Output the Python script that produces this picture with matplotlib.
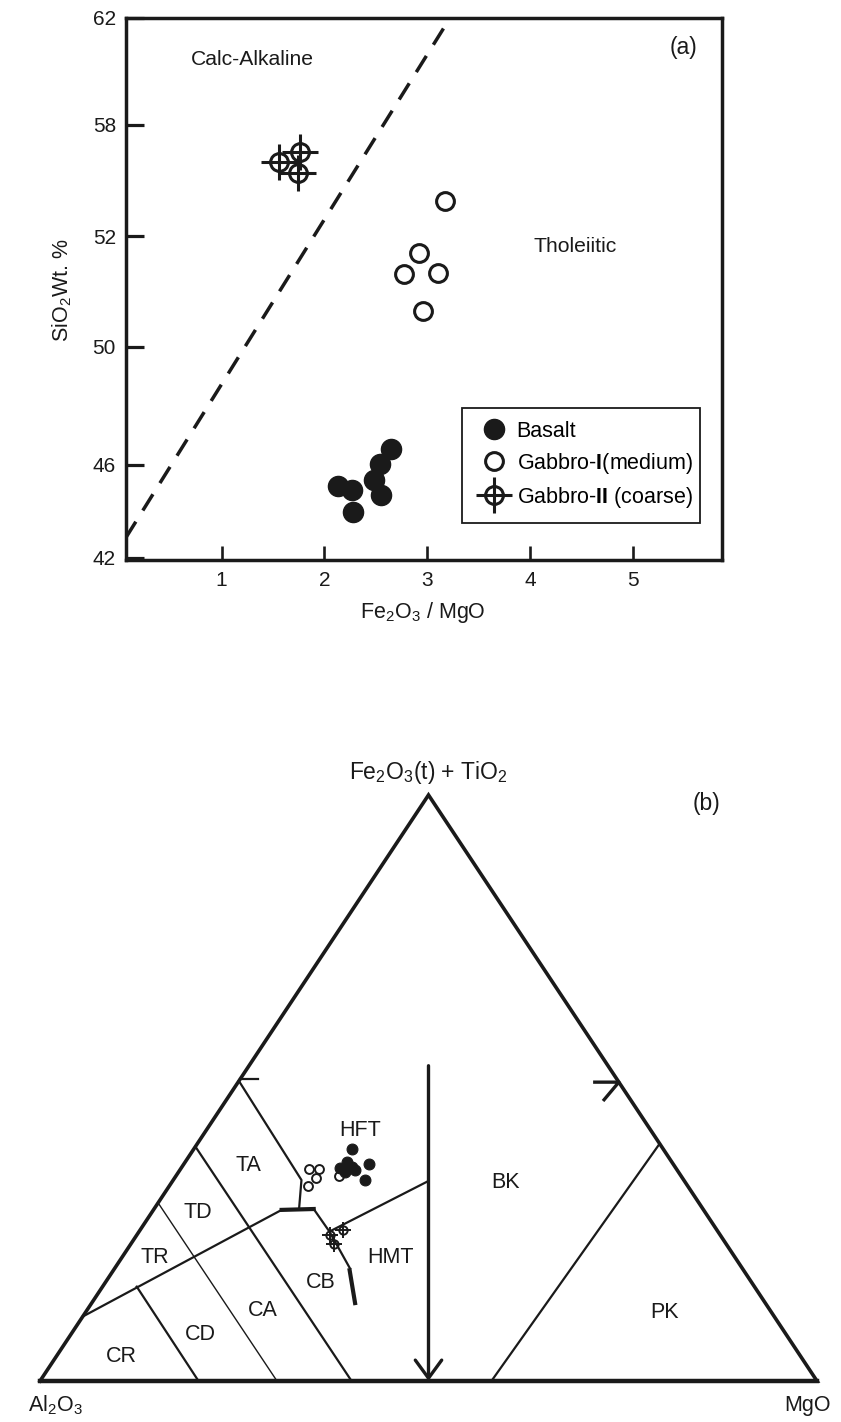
import matplotlib
matplotlib.use('Agg')
import matplotlib.pyplot as plt
from matplotlib.legend_handler import HandlerTuple

plt.rcParams['font.family'] = ['Liberation Sans', 'DejaVu Sans']
plt.rcParams['mathtext.fontset'] = 'custom'
plt.rcParams['mathtext.rm'] = 'Liberation Sans'
plt.rcParams['mathtext.bf'] = 'Liberation Sans:bold'
plt.rcParams['mathtext.it'] = 'Liberation Sans:italic'

# ---------------- (a) data ----------------
basalt_ratio = [2.65, 2.54, 2.48, 2.55, 2.13, 2.27, 2.28]
basalt_sio2 = [46.07, 45.53, 44.95, 44.37, 44.73, 44.55, 43.75]
g1_ratio = [3.17, 2.92, 2.77, 3.11, 2.96]
g1_sio2 = [55.25, 53.30, 52.54, 52.58, 51.17]
g2_ratio = [1.56, 1.76, 1.74]
g2_sio2 = [56.66, 57.05, 56.28]
divider_ratio = [0.066, 3.224]
divider_sio2 = [42.8, 62.0]
xtick_pos = [1, 2, 3, 4, 5]
xtick_labels = ['1', '2', '3', '4', '5']
ytick_pos = [42.07, 45.5, 49.85, 53.93, 58.06, 62.0]
ytick_labels = ['42', '46', '50', '52', '58', '62']

# ---------------- (b) data: Al2O3, Fe2O3(t)+TiO2, MgO (%) ----------------
basalt_al = [40.1, 41.8, 43.2, 41.6, 41.4, 42.9, 39.1, 41.0]
basalt_fe = [39.6, 37.4, 36.3, 36.6, 36.0, 35.6, 37.0, 34.3]
basalt_mg = [20.3, 20.8, 20.5, 21.9, 22.6, 21.5, 23.9, 24.7]
g1_al = [47.3, 46.0, 47.2, 48.9, 44.1]
g1_fe = [36.1, 36.1, 34.6, 33.2, 34.9]
g1_mg = [16.6, 17.9, 18.2, 17.9, 21.0]
g2_al = [50.2, 48.2, 50.5]
g2_fe = [24.9, 25.7, 23.4]
g2_mg = [24.9, 26.1, 26.1]

# field boundaries (Al, Fe, Mg) and line widths
boundaries = [
    ([(89.0, 11.0, 0.0), (54.3, 29.2, 16.5)], 1.6),            # TR/CR upper
    ([(54.3, 29.2, 16.5), (50.1, 29.35, 20.55)], 3.0),          # thick step
    ([(50.1, 29.35, 20.55), (50.0, 25.5, 24.5), (50.5, 19.2, 30.3)], 1.6),
    ([(50.7, 18.9, 30.4), (52.8, 13.3, 33.9)], 3.0),            # thick CB/HMT
    ([(50.0, 25.5, 24.5), (33.2, 34.0, 32.8)], 1.6),            # HMT/HFT-BK
    ([(48.8, 51.2, 0.0), (49.2, 34.3, 16.5), (51.9, 29.5, 18.6)], 1.6),  # TA
    ([(79.5, 16.1, 4.4), (79.6, 0.0, 20.4)], 1.6),              # CR/CD
    ([(69.6, 30.4, 0.0), (69.5, 0.0, 30.5)], 1.0),              # TD/CA
    ([(60.0, 40.0, 0.0), (59.9, 0.0, 40.1)], 1.6),              # CA/CB
    ([(41.9, 0.0, 58.1), (0.0, 40.5, 59.5)], 1.6),              # BK/PK
    ([(48.5, 51.5, 0.0), (46.2, 51.5, 2.3)], 1.6),              # left edge tick
    ([(3.1, 51.0, 45.9), (0.0, 51.0, 49.0), (3.4, 48.0, 48.6)], 2.4),  # right edge mark
]
arrow_top = (23.1, 53.8, 23.1)
arrow_bottom = (50.0, 0.0, 50.0)


def tern(al, fe, mg):
    s = al + fe + mg
    return mg / s + 0.5 * fe / s, fe / s


fig = plt.figure(figsize=(8.41, 14.22), dpi=100)
INK = '#1a1a1a'

# ================= (a) =================
ax = fig.add_axes([0.1495, 0.6065, 0.709, 0.381])
ax.set_xlim(0.066, 5.87)
ax.set_ylim(42, 62)
ax.plot(divider_ratio, divider_sio2, color=INK, lw=2.5,
        linestyle=(0, (5.5, 3.8)))
hb, = ax.plot(basalt_ratio, basalt_sio2, 'o', ms=14.5, mfc=INK,
              mec=INK, mew=1.0, linestyle='none')
h1, = ax.plot(g1_ratio, g1_sio2, 'o', ms=12.8, mfc='white', mec=INK,
              mew=2.2, linestyle='none')
h2c, = ax.plot(g2_ratio, g2_sio2, 'o', ms=12.8, mfc='none', mec=INK,
               mew=2.2, linestyle='none')
h2p, = ax.plot(g2_ratio, g2_sio2, '+', ms=26, mec=INK, mew=2.2,
               linestyle='none')

for s in ax.spines.values():
    s.set_linewidth(2.5)
    s.set_color(INK)
ax.set_xticks(xtick_pos)
ax.set_xticklabels(xtick_labels)
ax.set_yticks(ytick_pos)
ax.set_yticklabels(ytick_labels)
ax.tick_params(axis='x', direction='in', length=10, width=1.9, pad=8,
               labelsize=15, colors=INK)
ax.tick_params(axis='y', direction='in', length=13, width=2.3, pad=7,
               labelsize=15, colors=INK)

ax.text(-0.107, 0.4975, r'SiO$_2$Wt. %', transform=ax.transAxes,
        rotation=90, ha='center', va='center', fontsize=15.5, color=INK)
ax.text(0.4986, -0.097, r'Fe$_2$O$_3$ / MgO', transform=ax.transAxes,
        ha='center', va='center', fontsize=15.5, color=INK)
ax.text(0.2128, 0.9234, 'Calc-Alkaline', transform=ax.transAxes,
        ha='center', va='center', fontsize=15.2, color=INK)
ax.text(0.9346, 0.9443, '(a)', transform=ax.transAxes,
        ha='center', va='center', fontsize=16.5, color=INK)
ax.text(0.7543, 0.5787, 'Tholeiitic', transform=ax.transAxes,
        ha='center', va='center', fontsize=15.2, color=INK)

leg = ax.legend([hb, h1, (h2c, h2p)],
                ['Basalt', r'Gabbro-$\mathbf{I}$(medium)',
                 r'Gabbro-$\mathbf{II}$ (coarse)'],
                handler_map={tuple: HandlerTuple(ndivide=1)},
                loc='lower left', bbox_to_anchor=(0.5636, 0.0679, 0.3998, 0.2191),
                mode='expand', borderaxespad=0, fontsize=15.5, numpoints=1,
                handlelength=1.8, handletextpad=0.15, labelspacing=0.42,
                borderpad=0.6, fancybox=False, framealpha=1)
leg.get_frame().set_edgecolor(INK)
leg.get_frame().set_linewidth(1.3)

# ================= (b) =================
bx = fig.add_axes([0.04756, 0.02883, 0.9239, 0.4121])
bx.set_xlim(0, 1)
bx.set_ylim(0, 1)
bx.axis('off')

tri = [(100, 0, 0), (0, 0, 100), (0, 100, 0), (100, 0, 0)]
tx = [tern(*p)[0] for p in tri]
ty = [tern(*p)[1] for p in tri]
bx.plot(tx, ty, color=INK, lw=2.6, clip_on=False, solid_joinstyle='miter')
bx.plot(tx[:2], ty[:2], color=INK, lw=3.2, clip_on=False)

for pts, lw in boundaries:
    xs = [tern(*p)[0] for p in pts]
    ys = [tern(*p)[1] for p in pts]
    bx.plot(xs, ys, color=INK, lw=lw, clip_on=False)

bx.annotate('', xy=tern(*arrow_bottom), xytext=tern(*arrow_top),
            arrowprops=dict(arrowstyle='->,head_length=1.3,head_width=0.95',
                            lw=2.4, color=INK, shrinkA=0, shrinkB=0))

bxs = [tern(a, f, m) for a, f, m in zip(basalt_al, basalt_fe, basalt_mg)]
g1s = [tern(a, f, m) for a, f, m in zip(g1_al, g1_fe, g1_mg)]
g2s = [tern(a, f, m) for a, f, m in zip(g2_al, g2_fe, g2_mg)]
bx.plot([p[0] for p in g1s], [p[1] for p in g1s], 'o', ms=6.4, mfc='white',
        mec=INK, mew=1.4, linestyle='none')
bx.plot([p[0] for p in bxs], [p[1] for p in bxs], 'o', ms=7.8, mfc=INK,
        mec=INK, mew=0.8, linestyle='none')
bx.plot([p[0] for p in g2s], [p[1] for p in g2s], 'o', ms=6.0, mfc='none',
        mec=INK, mew=1.4, linestyle='none')
bx.plot([p[0] for p in g2s], [p[1] for p in g2s], '+', ms=11, mec=INK,
        mew=1.4, linestyle='none')

labels = [('HFT', 0.4118, 0.4283), ('TA', 0.2681, 0.3686), ('TD', 0.2037, 0.2872),
          ('TR', 0.1480, 0.2111), ('CR', 0.1051, 0.0415), ('CD', 0.2059, 0.0797),
          ('CA', 0.2866, 0.1200), ('CB', 0.3613, 0.1677), ('HMT', 0.4505, 0.2111),
          ('BK', 0.5988, 0.3391), ('PK', 0.8031, 0.1166)]
for t, x, y in labels:
    bx.text(x, y, t, ha='center', va='center', fontsize=15.5, color=INK)

bx.text(0.4994, 1.0392, r'Fe$_2$O$_3$(t) + TiO$_2$', ha='center', va='center',
        fontsize=16.5, color=INK)
bx.text(0.8581, 0.9863, '(b)', ha='center', va='center', fontsize=16.5,
        color=INK)
bx.text(0.0193, -0.041, r'Al$_2$O$_3$', ha='center', va='center', fontsize=15.5,
        color=INK)
bx.text(0.9884, -0.041, 'MgO', ha='center', va='center', fontsize=15.5,
        color=INK)

fig.savefig('out.png', dpi=100)
